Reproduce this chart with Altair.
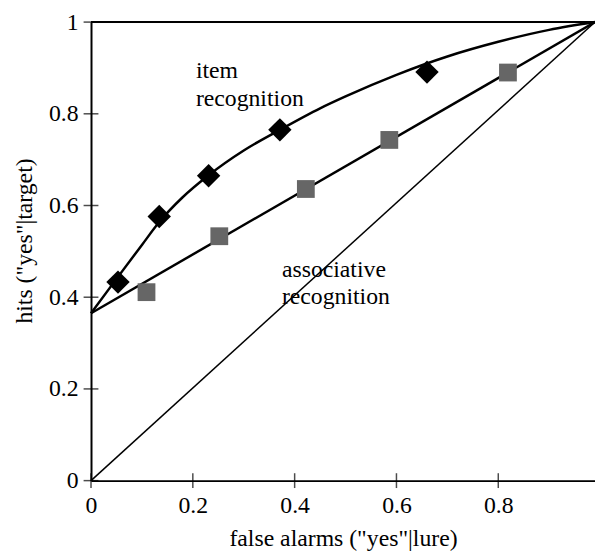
import altair as alt
import pandas as pd

# item recognition (diamonds)
item_fa = [0.053, 0.134, 0.231, 0.371, 0.66]
item_hit = [0.433, 0.576, 0.665, 0.765, 0.891]
# associative recognition (squares)
assoc_fa = [0.109, 0.252, 0.422, 0.586, 0.819]
assoc_hit = [0.411, 0.533, 0.636, 0.743, 0.89]

# fitted item ROC curve
item_curve_x = [0, 0.05, 0.1, 0.134, 0.18, 0.231, 0.3, 0.371, 0.45, 0.5, 0.6, 0.7, 0.8, 0.9, 0.99]
item_curve_y = [0.365, 0.44, 0.514, 0.564, 0.618, 0.666, 0.72, 0.765, 0.812, 0.838, 0.885, 0.925, 0.957, 0.983, 1.0]
# fitted associative ROC line
assoc_line_x = [0, 0.99]
assoc_line_y = [0.365, 1.0]
# chance diagonal
chance_x = [0, 0.99]
chance_y = [0, 1.0]

# tick values
x_ticks = [0, 0.2, 0.4, 0.6, 0.8]
y_ticks = [0, 0.2, 0.4, 0.6, 0.8, 1]

# annotations
ann_text = ["item", "recognition", "associative", "recognition"]
ann_x = [0.206, 0.206, 0.375, 0.375]
ann_y = [0.878, 0.816, 0.445, 0.385]

FONT = "serif"
FS = 24

xs = alt.Scale(domain=[0, 0.99], nice=False, zero=False)
ys = alt.Scale(domain=[0, 1], nice=False)

xaxis = alt.Axis(values=x_ticks, format="~g", grid=False, ticks=False, labelPadding=13,
                 domainColor="black", domainWidth=2, labelFont=FONT, labelFontSize=FS,
                 labelColor="black", titleFont=FONT, titleFontSize=FS, titleFontWeight="normal",
                 titleColor="black", titleY=66, titleBaseline="alphabetic", labelFlush=False)
yaxis = alt.Axis(values=y_ticks, format="~g", grid=False, ticks=False, labelPadding=13,
                 domainColor="black", domainWidth=2, labelFont=FONT, labelFontSize=FS,
                 labelColor="black", titleFont=FONT, titleFontSize=FS, titleFontWeight="normal",
                 titleColor="black", titleAngle=-90, titleX=-67, titleY=221,
                 titleAlign="center", titleBaseline="middle", labelFlush=False)

df_item_curve = pd.DataFrame({"x": item_curve_x, "y": item_curve_y})
df_assoc_line = pd.DataFrame({"x": assoc_line_x, "y": assoc_line_y})
df_chance = pd.DataFrame({"x": chance_x, "y": chance_y})
df_item = pd.DataFrame({"x": item_fa, "y": item_hit})
df_assoc = pd.DataFrame({"x": assoc_fa, "y": assoc_hit})
df_ann = pd.DataFrame({"x": ann_x, "y": ann_y, "t": ann_text})
df_xt = pd.DataFrame({"v": x_ticks})
df_yt = pd.DataFrame({"v": y_ticks})

base_axes = alt.Chart(df_chance).mark_line(color="black", strokeWidth=1.5).encode(
    x=alt.X("x:Q", scale=xs, axis=xaxis, title='false alarms ("yes"|lure)'),
    y=alt.Y("y:Q", scale=ys, axis=yaxis, title='hits ("yes"|target)'),
)

item_line = alt.Chart(df_item_curve).mark_line(color="black", strokeWidth=2.5, interpolate="monotone").encode(
    x=alt.X("x:Q", scale=xs), y=alt.Y("y:Q", scale=ys))
assoc_line = alt.Chart(df_assoc_line).mark_line(color="black", strokeWidth=2.5).encode(
    x=alt.X("x:Q", scale=xs), y=alt.Y("y:Q", scale=ys))

item_pts = alt.Chart(df_item).mark_point(shape="diamond", filled=True, color="black", size=560, opacity=1).encode(
    x=alt.X("x:Q", scale=xs), y=alt.Y("y:Q", scale=ys))
assoc_pts = alt.Chart(df_assoc).mark_point(shape="square", filled=True, color="#666666", size=324, opacity=1).encode(
    x=alt.X("x:Q", scale=xs), y=alt.Y("y:Q", scale=ys))

top_rule = alt.Chart(df_yt).transform_filter("datum.v == 1").mark_rule(color="black", strokeWidth=2).encode(
    y=alt.Y("v:Q", scale=ys), x=alt.value(0), x2=alt.value(510))

xticks = alt.Chart(df_xt).mark_tick(color="black", thickness=1.5, size=15, orient="vertical").encode(
    x=alt.X("v:Q", scale=xs), y=alt.datum(0, scale=ys))
yticks = alt.Chart(df_yt).mark_tick(color="black", thickness=1.5, size=15, orient="horizontal").encode(
    y=alt.Y("v:Q", scale=ys), x=alt.datum(0, scale=xs))

ann = alt.Chart(df_ann).mark_text(font=FONT, fontSize=FS, align="left", baseline="alphabetic", color="black").encode(
    x=alt.X("x:Q", scale=xs), y=alt.Y("y:Q", scale=ys), text="t:N")

chart = alt.layer(base_axes, item_line, assoc_line, top_rule, xticks, yticks, item_pts, assoc_pts, ann).properties(
    width=510, height=464,
    autosize=alt.AutoSizeParams(type="none"),
    padding={"left": 84, "top": 11, "right": 0, "bottom": 72},
).configure_view(stroke=None).configure(background="white")

chart.save("out.html", embed_options={"renderer": "svg", "actions": False})
